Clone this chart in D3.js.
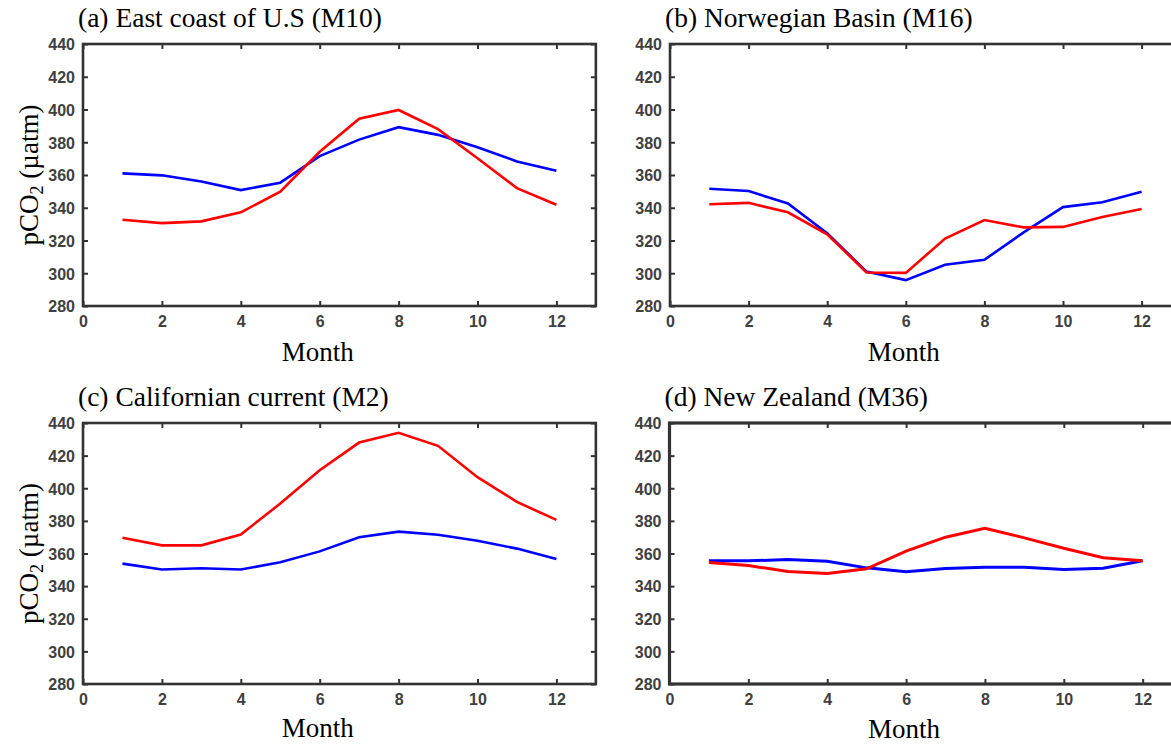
<!DOCTYPE html>
<html>
<head>
<meta charset="utf-8">
<script src="https://cdn.jsdelivr.net/npm/d3@7"></script>
<style>
  body { margin: 0; background: #fff; }
  svg { display: block; }
  .tick text { font-family: "Liberation Sans", Arial, sans-serif; font-weight: bold; font-size: 16px; fill: #404040; }
  .ttl, .lbl { font-family: "Liberation Serif", "Times New Roman", serif; fill: #000; }
</style>
</head>
<body>
<div id="chart"></div>
<script>
// months on x axis, pCO2 (µatm) values
var months = [1, 2, 3, 4, 5, 6, 7, 8, 9, 10, 11, 12]
var xTicks = [0, 2, 4, 6, 8, 10, 12]
var yTicks = [280, 300, 320, 340, 360, 380, 400, 420, 440]

var titles = ["(a) East coast of U.S (M10)", "(b) Norwegian Basin (M16)", "(c) Californian current (M2)", "(d) New Zealand (M36)"]

var blueA = [361, 359.8, 356, 350.8, 355.3, 371.5, 381.6, 389.2, 384.5, 377, 368.3, 362.6]
var redA  = [332.7, 330.6, 331.7, 337.2, 349.8, 374.2, 394.4, 399.7, 388, 370.2, 352, 341.8]

var blueB = [351.6, 350.2, 342.6, 324.4, 301, 295.8, 305.2, 308.2, 325, 340.4, 343.4, 349.8]
var redB  = [342.1, 343, 337.2, 323.8, 300.5, 300.2, 321.2, 332.5, 328, 328.3, 334.4, 339.2]

var blueC = [353.8, 350.2, 351, 350.2, 354.6, 361.3, 370, 373.4, 371.5, 367.8, 363, 356.6]
var redC  = [369.6, 365, 365, 371.6, 390.6, 411, 428, 434, 426, 406.8, 391.6, 380.6]

var blueD = [355.5, 355.5, 356.3, 355.3, 351.2, 348.8, 350.8, 351.5, 351.5, 350.2, 351, 355.5]
var redD  = [354.5, 352.6, 349, 347.8, 350.6, 361.5, 370, 375.4, 369.6, 363.2, 357.4, 355.5]

var width = 1171, height = 745

var svg = d3.select("#chart").append("svg")
    .attr("width", width)
    .attr("height", height)

// plot boxes: left, top, pixel width per month, bottom
var panels = [
    {left: 83, top: 44, bottom: 306, step: 39.45, blue: blueA, red: redA, ylab: true, monthY: 361},
    {left: 670, top: 44, bottom: 306, step: 39.3, blue: blueB, red: redB, ylab: false, monthY: 361},
    {left: 83, top: 423, bottom: 684, step: 39.45, blue: blueC, red: redC, ylab: true, monthY: 737},
    {left: 669.5, top: 423, bottom: 684, step: 39.43, blue: blueD, red: redD, ylab: false, monthY: 738}
]

panels.forEach(function (p, i) {
    var x = d3.scaleLinear().domain([0, 13]).range([p.left, p.left + 13 * p.step])
    var y = d3.scaleLinear().domain([280, 440]).range([p.bottom, p.top])
    var g = svg.append("g")

    // ticks inside on all four sides (MATLAB box style)
    var axB = g.append("g").attr("transform", "translate(0," + p.bottom + ")")
        .call(d3.axisBottom(x).tickValues(xTicks).tickSizeInner(-5).tickSizeOuter(0).tickPadding(10))
    var axT = g.append("g").attr("transform", "translate(0," + p.top + ")")
        .call(d3.axisTop(x).tickValues(xTicks).tickSizeInner(-5).tickSizeOuter(0).tickFormat(""))
    var axL = g.append("g").attr("transform", "translate(" + p.left + ",0)")
        .call(d3.axisLeft(y).tickValues(yTicks).tickSizeInner(-5).tickSizeOuter(0).tickPadding(8))
    var axR = g.append("g").attr("transform", "translate(" + x(13) + ",0)")
        .call(d3.axisRight(y).tickValues(yTicks).tickSizeInner(-5).tickSizeOuter(0).tickFormat(""))

    ;[axB, axT, axL, axR].forEach(function (a) {
        a.select(".domain").remove()
        a.selectAll(".tick line").attr("stroke", "#333").attr("stroke-width", 2)
    })
    axL.selectAll(".tick text").attr("dy", "0.36em")

    g.append("rect")
        .attr("x", x(0)).attr("y", y(440))
        .attr("width", x(13) - x(0)).attr("height", y(280) - y(440))
        .attr("fill", "none").attr("stroke", "#333").attr("stroke-width", i == 3 ? 3.2 : 2.6)

    var line = d3.line()
        .x(function (d, j) { return x(months[j]); })
        .y(function (d) { return y(d); })

    g.append("path").datum(p.blue).attr("d", line)
        .attr("fill", "none").attr("stroke", "#0000ff").attr("stroke-width", i == 3 ? 3 : 2.6)
    g.append("path").datum(p.red).attr("d", line)
        .attr("fill", "none").attr("stroke", "#ff0000").attr("stroke-width", i == 3 ? 3 : 2.6)

    g.append("text").attr("class", "ttl")
        .attr("x", p.left - 5).attr("y", p.top - 17)
        .style("font-size", "27.5px")
        .text(titles[i])

    g.append("text").attr("class", "lbl")
        .attr("x", x(5.95)).attr("y", p.monthY)
        .attr("text-anchor", "middle")
        .style("font-size", "27px")
        .text("Month")

    if (p.ylab) {
        var t = g.append("text").attr("class", "lbl")
            .attr("transform", "translate(" + 38 + "," + ((p.top + p.bottom) / 2) + ") rotate(-90)")
            .attr("text-anchor", "middle")
            .style("font-size", "27px")
        t.append("tspan").text("pCO")
        t.append("tspan").attr("dy", 5).style("font-size", "18px").text("2")
        t.append("tspan").attr("dy", -5).text(" (µatm)")
    }
})
</script>
</body>
</html>
